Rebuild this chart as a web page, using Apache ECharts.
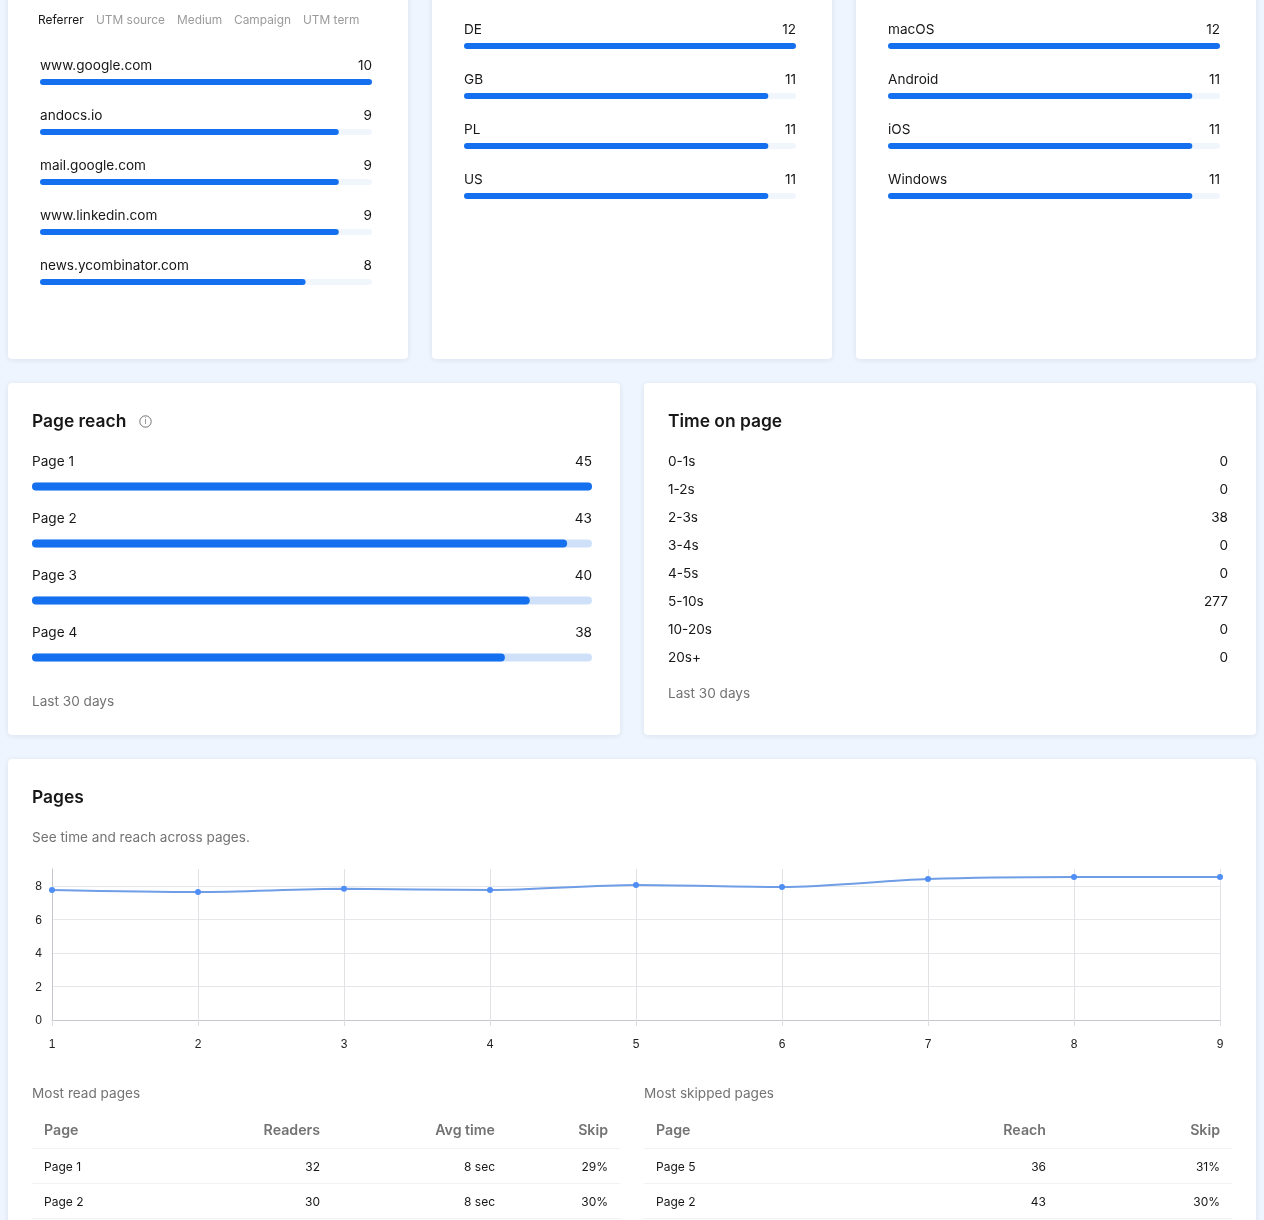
<!DOCTYPE html>
<html><head><meta charset="utf-8">
<style>html,body{margin:0;padding:0;background:#eef5fe;overflow:hidden}#c{width:1264px;height:1220px}</style>
<script src="https://cdn.jsdelivr.net/npm/echarts@6/dist/echarts.min.js"></script>
</head><body><div id="c"></div>
<script>
const tabs = ['Referrer','UTM source','Medium','Campaign','UTM term'];
const referrerNames = ['www.google.com','andocs.io','mail.google.com','www.linkedin.com','news.ycombinator.com'];
const referrerValues = [10,9,9,9,8];
const countryNames = ['DE','GB','PL','US'];
const countryValues = [12,11,11,11];
const osNames = ['macOS','Android','iOS','Windows'];
const osValues = [12,11,11,11];
const reachNames = ['Page 1','Page 2','Page 3','Page 4'];
const reachValues = [45,43,40,38];
const timeNames = ['0-1s','1-2s','2-3s','3-4s','4-5s','5-10s','10-20s','20s+'];
const timeValues = [0,0,38,0,0,277,0,0];
const lineCategories = ['1','2','3','4','5','6','7','8','9'];
const lineValues = [7.75,7.63,7.82,7.75,8.05,7.93,8.4,8.52,8.52];
const readHeaders = ['Page','Readers','Avg time','Skip'];
const readRows = [['Page 1','32','8 sec','29%'],['Page 2','30','8 sec','30%']];
const skipHeaders = ['Page','Reach','Skip'];
const skipRows = [['Page 5','36','31%'],['Page 2','43','30%']];

const FONT='Inter', INK='#171717', GRAY='#737373', BLUE='#1570ef';
const grids=[],xAxes=[],yAxes=[],series=[],gfx=[];

function text(x,y,t,o={}){gfx.push({type:'text',x,y:y+1,silent:true,z:5,style:Object.assign({text:t,fontFamily:FONT,fontSize:13.6,fill:INK,textAlign:'left',textVerticalAlign:'middle'},o)});}
function card(x,y,w,h){gfx.push({type:'rect',silent:true,z:1,shape:{x,y,width:w,height:h,r:4},style:{fill:'#fff',shadowBlur:5,shadowColor:'rgba(30,60,110,0.10)',shadowOffsetY:1}});}

function list(names,vals,left,width,top,step,o){
  const g=grids.length;
  grids.push({left,width,top,height:step*names.length,containLabel:false});
  xAxes.push({type:'value',gridIndex:g,min:0,max:Math.max(...vals),show:false});
  const lab=()=>({show:true,inside:true,margin:0,interval:0,fontFamily:FONT,fontSize:13.6,color:INK,verticalAlign:o.shift?'bottom':'middle',lineHeight:o.shift?o.shift*2:16});
  yAxes.push({type:'category',z:4,gridIndex:g,inverse:true,position:'left',data:names,axisLine:{show:false},axisTick:{show:false},splitLine:{show:false},axisLabel:lab()});
  const yl=yAxes.length-1;
  yAxes.push({type:'category',z:4,gridIndex:g,inverse:true,position:'right',data:vals.map(String),axisLine:{show:false},axisTick:{show:false},splitLine:{show:false},axisLabel:lab()});
  if(o.bar){
    series.push({type:'bar',xAxisIndex:g,yAxisIndex:yl,data:vals,barWidth:o.bar,silent:true,animation:false,z:3,
      itemStyle:{color:BLUE,borderRadius:o.bar/2},
      showBackground:true,backgroundStyle:{color:o.track,borderRadius:o.bar/2}});
  }
}

// cards
card(8,-30,400,389);card(432,-30,400,389);card(856,-30,400,389);
card(8,383,612,352);card(644,383,612,352);
card(8,759,1248,500);

// top tabs
const tabX=[38,96,177,234,303];
tabs.forEach((t,i)=>text(tabX[i],19,t,{fontSize:11.9,fill:i===0?INK:'#9b9b9b'}));

const lightTrack='#f1f6fd', strongTrack='#cfe1f9';
list(referrerNames,referrerValues,40,332,57,50,{bar:6,track:lightTrack,shift:16});
list(countryNames,countryValues,464,332,21,50,{bar:6,track:lightTrack,shift:16});
list(osNames,osValues,888,332,21,50,{bar:6,track:lightTrack,shift:16});
list(reachNames,reachValues,32,560,458,57,{bar:8,track:strongTrack,shift:25});
list(timeNames,timeValues,668,560,448,28,{shift:0});

// headings
const H={fontSize:17.4,fontWeight:600};
text(32,421,'Page reach',H);
text(668,421,'Time on page',H);
text(32,797,'Pages',H);
const S={fontSize:13.6,fill:GRAY};
text(32,701,'Last 30 days',S);
text(668,693,'Last 30 days',S);
text(32,837,'See time and reach across pages.',S);
text(32,1093,'Most read pages',S);
text(644,1093,'Most skipped pages',S);
// info icon
gfx.push({type:'circle',silent:true,z:5,shape:{cx:145.5,cy:421.5,r:5.7},style:{fill:'none',stroke:'#737373',lineWidth:1}});
text(145.5,420.5,'i',{fontSize:8,fill:'#737373',textAlign:'center'});

// line chart
const lg=grids.length;
grids.push({left:52,right:44,top:869,height:151,containLabel:false});
xAxes.push({type:'category',z:3,gridIndex:lg,boundaryGap:false,data:lineCategories,
  axisLine:{show:true,lineStyle:{color:'#c4c7cc'}},axisTick:{show:true,length:6,alignWithLabel:true,lineStyle:{color:'#dcdee2'}},
  splitLine:{show:true,lineStyle:{color:'#e0e2e6'}},
  axisLabel:{fontFamily:'Liberation Sans',fontSize:12,color:'#222',margin:19,showMinLabel:true,showMaxLabel:true,interval:0}});
yAxes.push({type:'value',z:3,gridIndex:lg,min:0,max:9,interval:2,
  axisLine:{show:true,lineStyle:{color:'#c4c7cc'}},axisTick:{show:false},
  splitLine:{show:true,showMaxLine:false,lineStyle:{color:'#e6e7ea'}},
  axisLabel:{fontFamily:'Liberation Sans',fontSize:12,color:'#222',margin:10,showMaxLabel:false,verticalAlign:'top',lineHeight:2}});
series.push({type:'line',xAxisIndex:lg,yAxisIndex:yAxes.length-1,data:lineValues,smooth:0.3,symbol:'circle',symbolSize:6,silent:true,animation:false,z:4,
  lineStyle:{color:'#6f9de6',width:2},itemStyle:{color:'#4f8ef5'}});

// tables
function table(headers,rows,colX,x0,x1){
  const hy=1130,ry=[1166,1201],ly=[1148,1183,1218];
  headers.forEach((h,i)=>text(colX[i],hy,h,{fontSize:14.2,fontWeight:600,fill:GRAY,textAlign:i?'right':'left'}));
  rows.forEach((r,k)=>r.forEach((c,i)=>text(colX[i],ry[k],c,{fontSize:12,textAlign:i?'right':'left'})));
  ly.forEach(y=>gfx.push({type:'line',silent:true,z:4,shape:{x1:x0,y1:y+.5,x2:x1,y2:y+.5},style:{stroke:'#f1f2f4',lineWidth:1}}));
}
table(readHeaders,readRows,[44,320,495,608],32,620);
table(skipHeaders,skipRows,[656,1046,1220],644,1232);

const chart=echarts.init(document.getElementById('c'),null,{renderer:'canvas'});
chart.setOption({animation:false,backgroundColor:'#eef5fe',grid:grids,xAxis:xAxes,yAxis:yAxes,series,graphic:{elements:gfx},tooltip:{show:false}});
</script></body></html>
